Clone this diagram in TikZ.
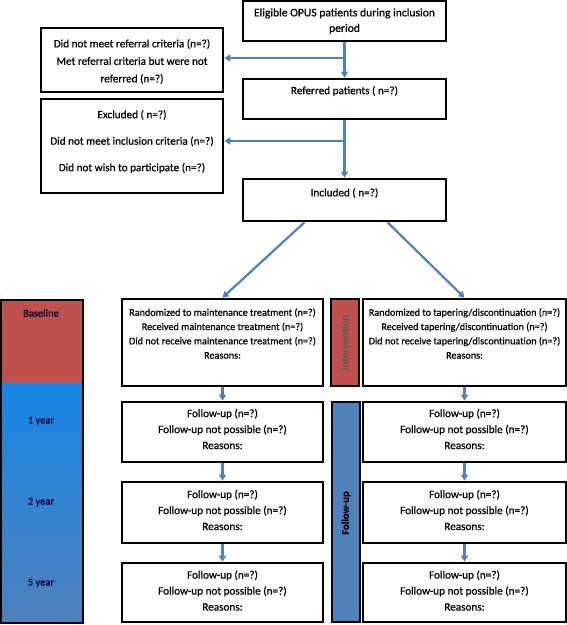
\documentclass[tikz,border=0pt]{standalone}
\usepackage{fontspec}
\setmainfont{Carlito}[FakeBold=0.7]
\usetikzlibrary{arrows.meta,calc}
\definecolor{offred}{RGB}{192,80,77}
\definecolor{offblue}{RGB}{79,129,189}
\definecolor{brightblue}{RGB}{22,134,228}
\definecolor{midblue}{RGB}{40,122,208}
\definecolor{arrowblue}{RGB}{79,129,189}
\begin{document}
\begin{tikzpicture}[x=1pt,y=-1pt,
  box/.style={draw=black,line width=2.6pt,fill=white,inner sep=0pt},
  txt/.style={align=center,inner sep=0pt,font=\fontsize{11.2}{17.5}\selectfont},
  rowtxt/.style={align=center,inner sep=0pt,font=\fontsize{10.2}{14.3}\selectfont},
  futxt/.style={align=center,inner sep=0pt,font=\fontsize{11.2}{16}\selectfont},
  bartxt/.style={inner sep=0pt,font=\fontsize{10.5}{12}\selectfont,text=black!80!blue},
  arr/.style={draw=arrowblue,line width=2.2pt,-{Triangle[length=6pt,width=7pt]}}]
\useasboundingbox (0,0) rectangle (567,625);

% top flow
\node[box,minimum width=203,minimum height=40] (eligible) at (344.5,21) {};
\node[txt,font=\fontsize{11.6}{15.5}\selectfont] (eligibleT) at (344.5,21) {Eligible OPUS patients during inclusion\\period};

\node[box,minimum width=182,minimum height=64] (left1) at (132,60) {};
\node[txt] (left1T) at (132,61.5) {Did not meet referral criteria (n=?)\\Met referral criteria but were not\\referred (n=?)};

\node[box,minimum width=203,minimum height=40] (referred) at (344.5,99) {};
\node[txt] (referredT) at (344.5,91) {Referred patients ( n=?)};

\node[box,minimum width=182,minimum height=94] (left2) at (132,146) {};
\node[txt,font=\fontsize{11.2}{26.5}\selectfont] (left2T) at (132,141.5) {Excluded ( n=?)\\Did not meet inclusion criteria (n=?)\\Did not wish to participate (n=?)};

\node[box,minimum width=203,minimum height=42] (included) at (344.5,200) {};
\node[txt] (includedT) at (344.5,193) {Included ( n=?)};

\coordinate (b1) at (344.5,58);
\coordinate (b2) at (344.5,141);
\draw[arr] (eligible.south) -- (referred.north);
\draw[arr] (b1) -- (b1 -| left1.east);
\draw[arr] (referred.south) -- (included.north);
\draw[arr] (b2) -- (b2 -| left2.east);

% time bar
\node[fill=offred,minimum width=82,minimum height=84,inner sep=0pt,anchor=north west] (basebar) at (0,299) {};
\node[top color=brightblue,middle color=midblue,bottom color=offblue,minimum width=82,minimum height=239,inner sep=0pt,anchor=north west] (yearbar) at (0,383) {};
\node[draw=black,line width=1.8pt,minimum width=82,minimum height=323,inner sep=0pt,anchor=north west] (timebar) at (0,299) {};
\node[bartxt] (baseT) at (41,313) {Baseline};
\node[bartxt] (y1T) at (41,421) {1 year};
\node[bartxt] (y2T) at (41,502) {2 year};
\node[bartxt] (y5T) at (41,583) {5 year};

% intervention row
\node[box,minimum width=201,minimum height=87] (randL) at (222.5,342.5) {};
\node[rowtxt] (randLT) at (222.5,333.5) {Randomized to maintenance treatment (n=?)\\Received maintenance treatment (n=?)\\Did not receive maintenance treatment (n=?)\\Reasons:};
\node[draw=black,line width=2.6pt,fill=offred,minimum width=28,minimum height=87,inner sep=0pt] (interv) at (345,342.5) {};
\node[rotate=90,inner sep=0pt,font=\fontsize{11}{12}\selectfont,text=black!65] (intervT) at (345,342.5) {Intervention};
\node[box,minimum width=203,minimum height=87] (randR) at (464.5,342.5) {};
\node[rowtxt] (randRT) at (464.5,333.5) {Randomized to tapering/discontinuation (n=?)\\Received tapering/discontinuation (n=?)\\Did not receive tapering/discontinuation (n=?)\\Reasons:};

\draw[arr] ($(included.south)+(-40,0)$) -- (randL.north);
\draw[arr] ($(included.south)+(43,0)$) -- (randR.north);

% follow-up rows
\node[box,minimum width=201,minimum height=60] (fu1L) at (222.5,432) {};
\node[box,minimum width=201,minimum height=61] (fu2L) at (222.5,512.5) {};
\node[box,minimum width=201,minimum height=59] (fu3L) at (222.5,592.5) {};
\node[box,minimum width=203,minimum height=60] (fu1R) at (464.5,432) {};
\node[box,minimum width=203,minimum height=61] (fu2R) at (464.5,512.5) {};
\node[box,minimum width=203,minimum height=59] (fu3R) at (464.5,592.5) {};
\node[futxt] (fu1LT) at (222.5,429) {Follow-up (n=?)\\Follow-up not possible (n=?)\\Reasons:};
\node[futxt] (fu2LT) at (222.5,510) {Follow-up (n=?)\\Follow-up not possible (n=?)\\Reasons:};
\node[futxt] (fu3LT) at (222.5,590.5) {Follow-up (n=?)\\Follow-up not possible (n=?)\\Reasons:};
\node[futxt] (fu1RT) at (464.5,429) {Follow-up (n=?)\\Follow-up not possible (n=?)\\Reasons:};
\node[futxt] (fu2RT) at (464.5,510) {Follow-up (n=?)\\Follow-up not possible (n=?)\\Reasons:};
\node[futxt] (fu3RT) at (464.5,590.5) {Follow-up (n=?)\\Follow-up not possible (n=?)\\Reasons:};

\node[draw=black,line width=2.6pt,fill=offblue,minimum width=28,minimum height=220,inner sep=0pt] (fubar) at (346,512) {};
\node[rotate=90,inner sep=0pt,font=\bfseries\fontsize{10.5}{12}\selectfont] (fubarT) at (346,513) {Follow-up};

\draw[arr] (randL.south) -- (fu1L.north);
\draw[arr] (fu1L.south) -- (fu2L.north);
\draw[arr] (fu2L.south) -- (fu3L.north);
\draw[arr] (randR.south) -- (fu1R.north);
\draw[arr] (fu1R.south) -- (fu2R.north);
\draw[arr] (fu2R.south) -- (fu3R.north);
\end{tikzpicture}
\end{document}
